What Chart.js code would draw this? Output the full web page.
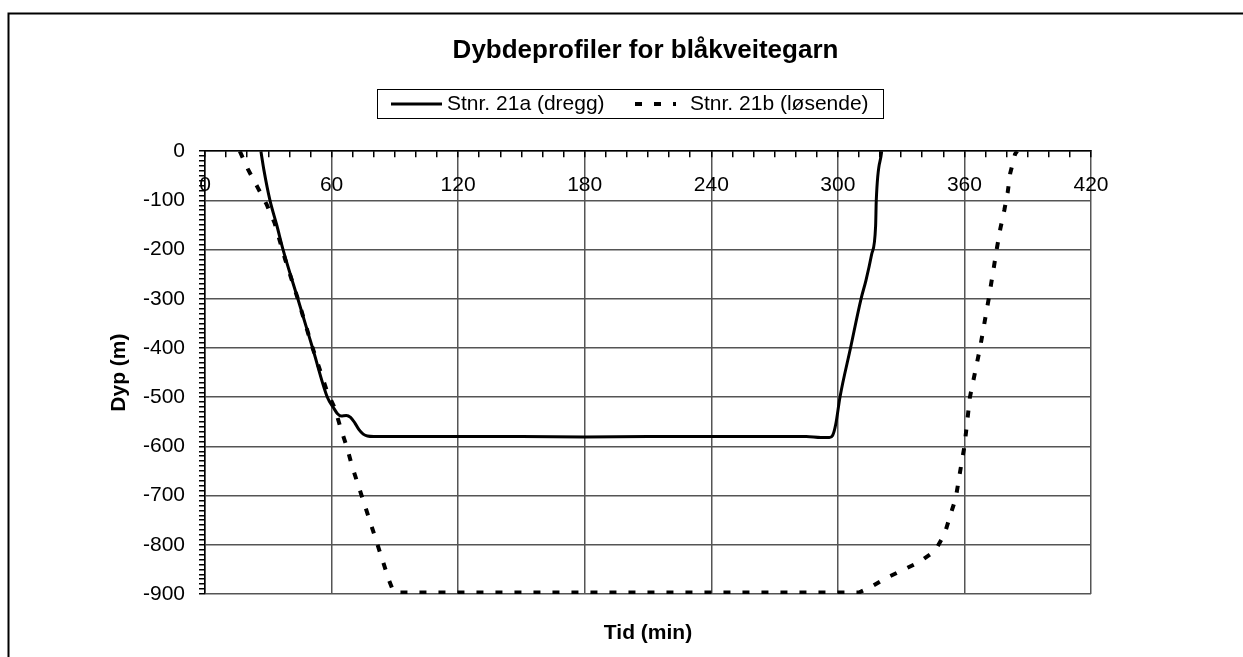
<!DOCTYPE html>
<html><head><meta charset="utf-8">
<script src="https://cdn.jsdelivr.net/npm/chart.js@4.4.0/dist/chart.umd.min.js"></script>
<style>html,body{margin:0;padding:0;background:#fff;} canvas{display:block;}</style>
</head><body>
<canvas id="c" width="1243" height="657"></canvas>
<script>
// ---- Data ----
const chartTitle = 'Dybdeprofiler for blåkveitegarn';
const xTitle = 'Tid (min)';
const yTitle = 'Dyp (m)';
const seriesNames = ['Stnr. 21a (dregg)', 'Stnr. 21b (løsende)'];

// Stnr. 21a (dregg): time (min) and depth (m)
const timeA  = [26.5, 28, 30.8, 34, 37, 44, 51, 58, 61, 62.7, 64.5, 67, 69, 71, 73, 75, 77, 80, 90, 120, 150, 180, 210, 240, 270, 285, 292, 296, 297.5, 299, 301, 306, 311, 313.3, 316, 317.9, 318.2, 320.8];
const depthA = [0, -40, -100, -150, -200, -300, -400, -500, -522, -533, -538, -537, -541, -552, -566, -575, -579, -580, -580, -580, -580, -581, -580, -580, -580, -580, -582, -582, -578, -555, -500, -400, -300, -263, -210, -152, -101, 0];

// Stnr. 21b (løsende): time (min) and depth (m)
const timeB  = [16.5, 20.4, 25, 29.2, 33, 38, 44, 51, 58, 61.6, 64.3, 67.3, 69.7, 75, 80, 87.2, 89.5, 120, 180, 240, 300, 310, 315.6, 323.2, 331, 338.6, 346, 350.6, 353.3, 355.9, 358, 360, 362.6, 367.4, 371.5, 373.9, 375.4, 377, 378.9, 380.5, 381.7, 384, 385];
const depthB = [0, -37, -74, -108, -146, -220, -300, -400, -490, -523, -563, -602, -640, -710, -776, -872, -897, -897, -897, -897, -897, -897, -886, -867, -851, -835, -813, -778, -740, -705, -650, -600, -500, -400, -300, -237, -197, -158, -120, -84, -45, -6, 0];

// Axis ticks
const xMin = 0, xMax = 420, xMajor = 60, xMinor = 10;
const yMin = -900, yMax = 0, yMajor = 100, yMinor = 10;

const FONT = "'Liberation Sans', Arial, sans-serif";
Chart.defaults.font.family = FONT;
Chart.defaults.color = '#000';

const toPoints = (ts, ds) => ts.map((t, i) => ({x: t, y: ds[i]}));
const isMajor = (v, step) => Math.abs(Math.round(v) % step) === 0;
const GRID = '#555';

const frame = {
  id: 'frame',
  beforeDraw(chart) {
    const ctx = chart.ctx;
    ctx.save();
    ctx.fillStyle = '#fff';
    ctx.fillRect(0, 0, chart.width, chart.height);
    ctx.strokeStyle = '#000';
    ctx.lineWidth = 2;
    ctx.strokeRect(8.5, 13.5, 1400, 800);
    ctx.restore();
  }
};

const boxedLegend = {
  id: 'boxedLegend',
  afterDraw(chart) {
    const ctx = chart.ctx;
    ctx.save();
    ctx.strokeStyle = '#000';
    ctx.lineWidth = 1;
    ctx.strokeRect(377.5, 89.5, 506, 29);
    const cy = 104;
    const spots = [{x0: 391, x1: 442, tx: 447}, {x0: 635, x1: 676, tx: 690}];
    chart.data.datasets.forEach((ds, i) => {
      const s = spots[i];
      ctx.setLineDash(ds.borderDash || []);
      ctx.lineWidth = ds.borderWidth;
      ctx.strokeStyle = ds.borderColor;
      ctx.beginPath();
      ctx.moveTo(s.x0, cy);
      ctx.lineTo(s.x1, cy);
      ctx.stroke();
      ctx.setLineDash([]);
      ctx.fillStyle = '#000';
      ctx.font = '21px ' + FONT;
      ctx.textBaseline = 'middle';
      ctx.textAlign = 'left';
      ctx.fillText(ds.label, s.tx, cy);
    });
    ctx.restore();
  }
};

new Chart(document.getElementById('c'), {
  type: 'line',
  data: {
    datasets: [
      {
        label: seriesNames[0],
        data: toPoints(timeA, depthA),
        borderColor: '#000',
        borderWidth: 3,
        pointRadius: 0,
        cubicInterpolationMode: 'monotone',
        fill: false
      },
      {
        label: seriesNames[1],
        data: toPoints(timeB, depthB),
        borderColor: '#000',
        borderWidth: 4,
        borderDash: [7, 12],
        pointRadius: 0,
        tension: 0,
        fill: false
      }
    ]
  },
  options: {
    responsive: false,
    animation: false,
    events: [],
    layout: {padding: {left: 48, right: 0, top: 0, bottom: 0}},
    plugins: {
      legend: {display: false},
      tooltip: {enabled: false},
      title: {
        display: true,
        text: chartTitle,
        font: {size: 26, weight: 'bold', family: FONT},
        color: '#000',
        padding: {top: 35, bottom: 0}
      }
    },
    scales: {
      x: {
        type: 'linear',
        position: 'top',
        min: xMin, max: xMax,
        afterFit(s) { s.height = 85; },
        ticks: {
          stepSize: xMinor,
          autoSkip: false,
          maxRotation: 0, minRotation: 0,
          mirror: true,
          padding: 21,
          font: {size: 21},
          color: '#000',
          callback: v => isMajor(v, xMajor) ? String(Math.round(v)) : ''
        },
        grid: {
          drawTicks: true,
          tickLength: -6,
          lineWidth: 1.5,
          color: c => isMajor(c.tick.value, xMajor) ? GRID : 'rgba(0,0,0,0)',
          tickColor: '#000',
          tickWidth: 1.5
        },
        border: {display: true, color: '#000', width: 1.5}
      },
      x2: {
        type: 'linear',
        position: 'bottom',
        min: xMin, max: xMax,
        afterFit(s) { s.height = 63; },
        ticks: {display: false},
        grid: {display: false, drawTicks: false},
        border: {display: false},
        title: {
          display: true,
          text: xTitle,
          font: {size: 21, weight: 'bold'},
          color: '#000',
          padding: {top: 0, bottom: 11}
        }
      },
      y: {
        type: 'linear',
        position: 'left',
        min: yMin, max: yMax,
        afterFit(s) { s.width = 157; },
        ticks: {
          stepSize: yMinor,
          autoSkip: false,
          padding: 14,
          font: {size: 21},
          color: '#000',
          callback: v => isMajor(v, yMajor) ? String(Math.round(v)) : ''
        },
        grid: {
          drawTicks: true,
          tickLength: 6,
          lineWidth: 1.5,
          color: c => isMajor(c.tick.value, yMajor) ? GRID : 'rgba(0,0,0,0)',
          tickColor: '#000',
          tickWidth: 1.5
        },
        border: {display: true, color: '#000', width: 1.5},
        title: {
          display: true,
          text: yTitle,
          font: {size: 21, weight: 'bold'},
          color: '#000',
          padding: {top: 59, bottom: 0}
        }
      },
      y2: {
        type: 'linear',
        position: 'right',
        min: yMin, max: yMax,
        afterFit(s) { s.width = 152; },
        ticks: {display: false},
        grid: {display: false, drawTicks: false},
        border: {display: false}
      }
    }
  },
  plugins: [frame, boxedLegend]
});
</script>
</body></html>
